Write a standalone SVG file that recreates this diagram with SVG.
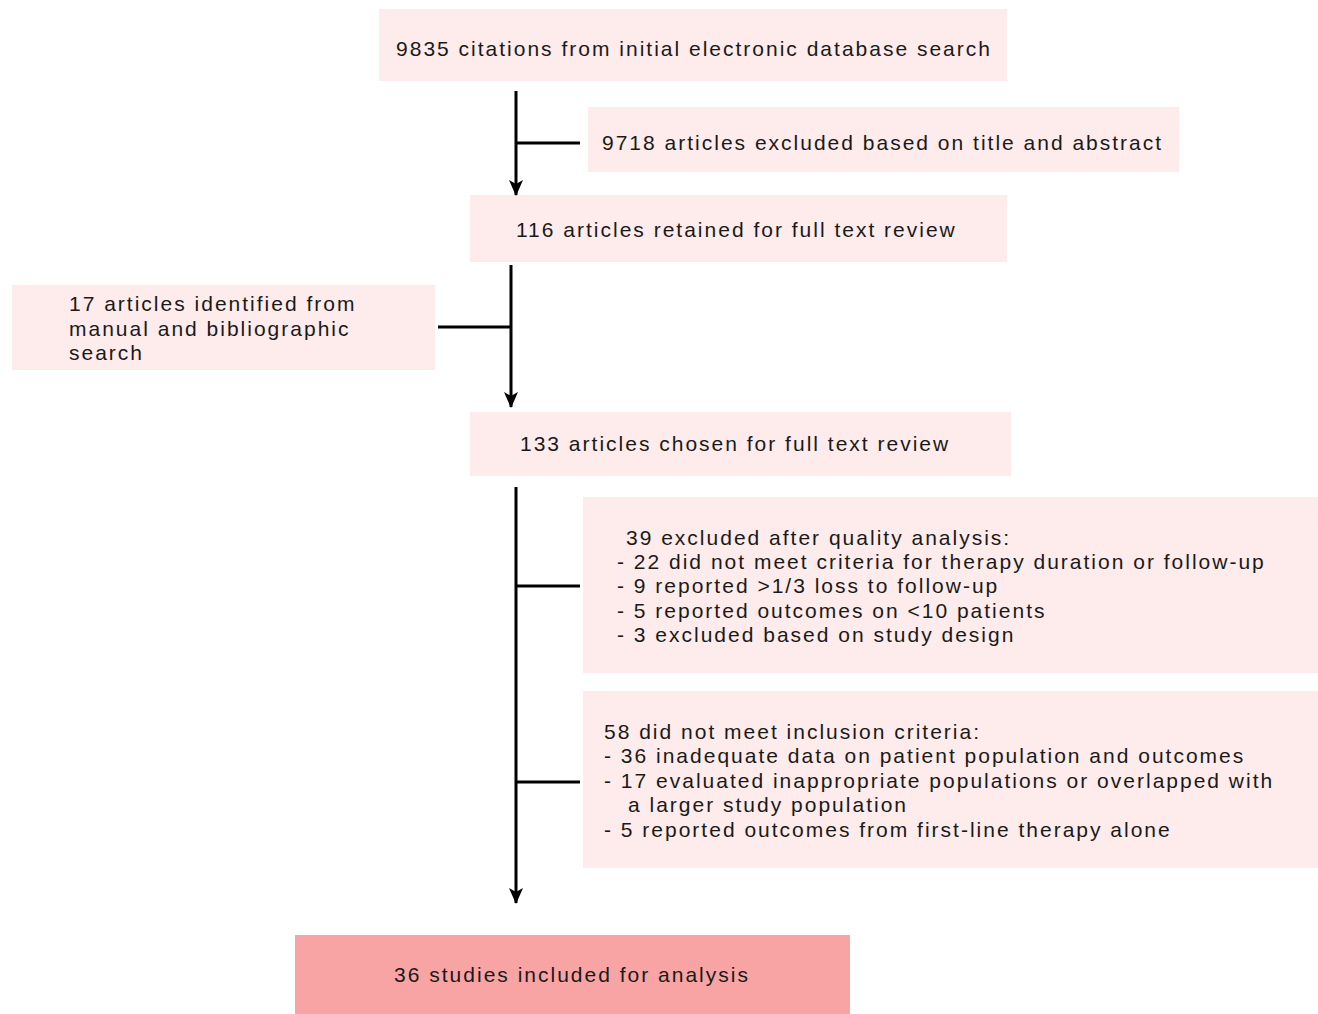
<svg xmlns="http://www.w3.org/2000/svg" width="1318" height="1014" viewBox="0 0 1318 1014">
<defs>
<marker id="arr" markerWidth="16" markerHeight="16" refX="15" refY="8" orient="auto" markerUnits="userSpaceOnUse" viewBox="0 0 16 16">
<path d="M0,1 L16,8 L0,15 L4,8 Z" fill="#000"/>
</marker>
<style>
.box{fill:#fdeceb}
.fin{fill:#f8a4a4}
text{font-family:"Liberation Sans",Arial,sans-serif;font-size:21px;fill:#1a1a1a;letter-spacing:2px}
.ln{stroke:#000;stroke-width:3;fill:none}
</style>
</defs>
<rect width="1318" height="1014" fill="#fff"/>
<g id="n1"><rect class="box" x="379" y="9" width="628" height="72"/><text x="694" y="56" text-anchor="middle">9835 citations from initial electronic database search</text></g>
<g id="n2"><rect class="box" x="588" y="107" width="591" height="65"/><text x="602" y="150">9718 articles excluded based on title and abstract</text></g>
<g id="n3"><rect class="box" x="470" y="195" width="537" height="67"/><text x="516" y="237">116 articles retained for full text review</text></g>
<g id="n4"><rect class="box" x="12" y="285" width="423" height="85"/><text x="69" y="311">17 articles identified from</text><text x="69" y="336">manual and bibliographic</text><text x="69" y="360">search</text></g>
<g id="n5"><rect class="box" x="470" y="412" width="541" height="64"/><text x="520" y="451">133 articles chosen for full text review</text></g>
<g id="n6"><rect class="box" x="583" y="497" width="735" height="176"/><text x="626" y="545">39 excluded after quality analysis:</text><text x="617" y="569">- 22 did not meet criteria for therapy duration or follow-up</text><text x="617" y="593">- 9 reported &gt;1/3 loss to follow-up</text><text x="617" y="618">- 5 reported outcomes on &lt;10 patients</text><text x="617" y="642">- 3 excluded based on study design</text></g>
<g id="n7"><rect class="box" x="583" y="691" width="735" height="177"/><text x="604" y="739">58 did not meet inclusion criteria:</text><text x="604" y="763">- 36 inadequate data on patient population and outcomes</text><text x="604" y="788">- 17 evaluated inappropriate populations or overlapped with</text><text x="628" y="812">a larger study population</text><text x="604" y="837">- 5 reported outcomes from first-line therapy alone</text></g>
<g id="n8"><rect class="fin" x="295" y="935" width="555" height="79"/><text x="572" y="982" text-anchor="middle">36 studies included for analysis</text></g>
<g id="connectors">
<line class="ln" x1="516" y1="91" x2="516" y2="195" marker-end="url(#arr)"/>
<line class="ln" x1="516" y1="143" x2="580" y2="143"/>
<line class="ln" x1="511" y1="265" x2="511" y2="407" marker-end="url(#arr)"/>
<line class="ln" x1="438" y1="327" x2="511" y2="327"/>
<line class="ln" x1="516" y1="487" x2="516" y2="903" marker-end="url(#arr)"/>
<line class="ln" x1="516" y1="586" x2="580" y2="586"/>
<line class="ln" x1="516" y1="782" x2="580" y2="782"/>
</g>
</svg>
